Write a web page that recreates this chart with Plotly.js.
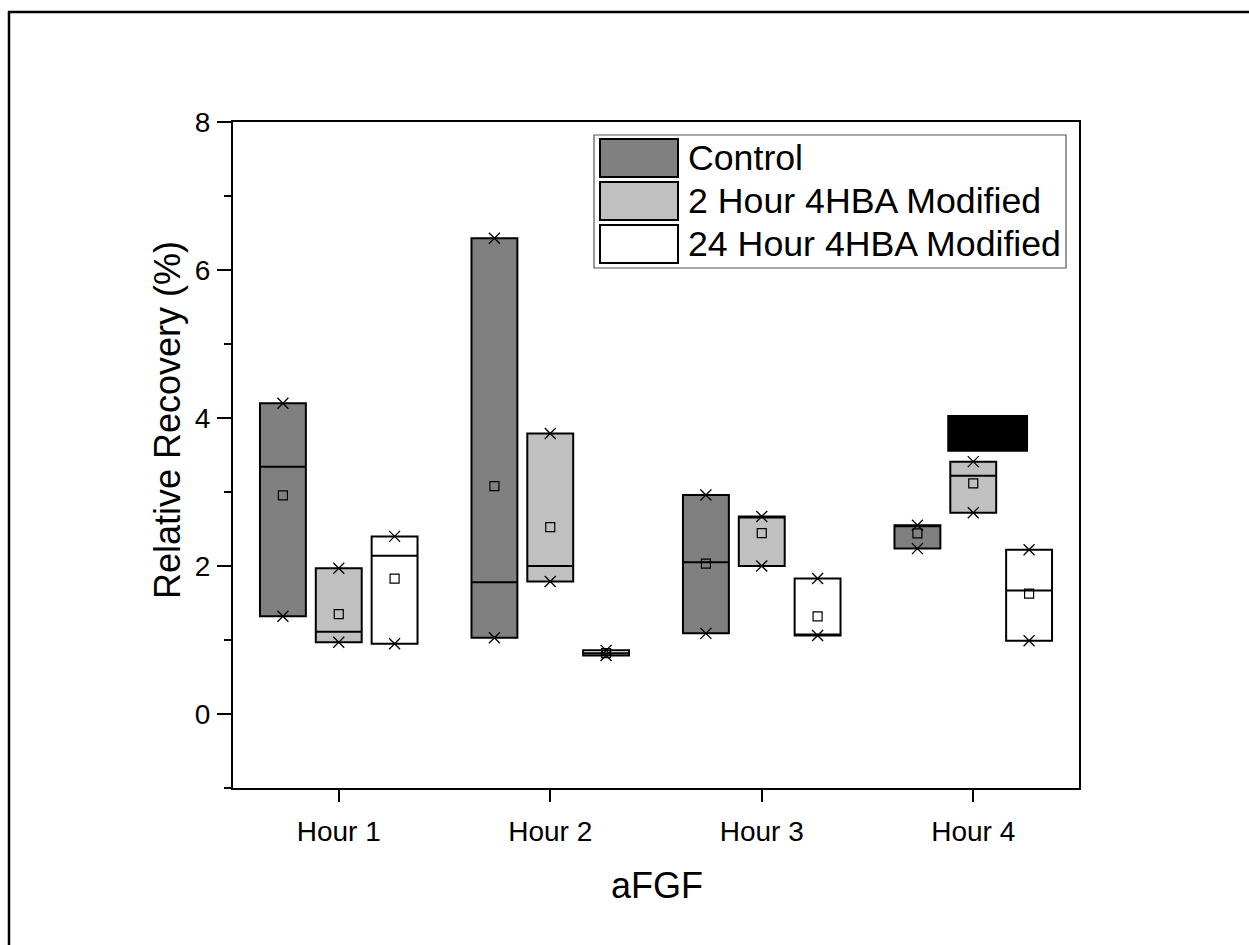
<!DOCTYPE html>
<html>
<head>
<meta charset="utf-8">
<script src="https://cdn.plot.ly/plotly-3.0.1.min.js"></script>
<style>
html,body{margin:0;padding:0;background:#fff;}
#chart{width:1249px;height:945px;}
</style>
</head>
<body>
<div id="chart"></div>
<script>
// ---- data ----
const categories = ["Hour 1", "Hour 2", "Hour 3", "Hour 4"];
const seriesNames = ["Control", "2 Hour 4HBA Modified", "24 Hour 4HBA Modified"];
// three measurements per group: [min, middle, max]
const controlValues = [[1.32, 3.34, 4.20], [1.03, 1.78, 6.43], [1.09, 2.05, 2.96], [2.235, 2.54, 2.55]];
const twoHourValues = [[0.97, 1.11, 1.97], [1.79, 2.00, 3.79], [2.00, 2.66, 2.67], [2.72, 3.22, 3.41]];
const day1Values    = [[0.95, 2.14, 2.40], [0.79, 0.82, 0.86], [1.06, 1.07, 1.83], [0.99, 1.67, 2.22]];
const yTickVals = [0, 2, 4, 6, 8];
const yMinorTickVals = [-1, 1, 3, 5, 7];
// black block drawn over Hour 4 in the reference (x in category units, y in %)
const blockX = [3.877, 4.259];
const blockY = [3.545, 4.04];

// ---- styling ----
const fills = ["#808080", "#C0C0C0", "#FFFFFF"];
const offsets = [-0.264, 0, 0.264];
const boxWidth = 0.217;
const FONT = "Arial, 'Liberation Sans', Helvetica, sans-serif";

const allSeries = [controlValues, twoHourValues, day1Values];
const traces = [];

allSeries.forEach((series, s) => {
  const xs = [], ys = [];
  const mx = [], my = [], ex = [], ey = [];
  series.forEach((vals, i) => {
    const xpos = (i + 1) + offsets[s];
    vals.forEach(v => { xs.push(xpos); ys.push(v); });
    const sorted = vals.slice().sort((a, b) => a - b);
    mx.push(xpos); my.push(vals.reduce((a, b) => a + b, 0) / vals.length);
    ex.push(xpos, xpos); ey.push(sorted[0], sorted[sorted.length - 1]);
  });
  traces.push({
    type: "box", name: seriesNames[s], x: xs, y: ys,
    quartilemethod: "exclusive", boxpoints: false,
    width: boxWidth, fillcolor: fills[s],
    line: {color: "#000", width: 2}, whiskerwidth: 0,
    showlegend: false, hoverinfo: "skip"
  });
  traces.push({
    type: "scatter", mode: "markers", x: ex, y: ey, showlegend: false, hoverinfo: "skip",
    marker: {symbol: "x-thin-open", size: 11, color: "#000", line: {color: "#000", width: 1.3}}
  });
  traces.push({
    type: "scatter", mode: "markers", x: mx, y: my, showlegend: false, hoverinfo: "skip",
    marker: {symbol: "square-open", size: 9, color: "#000", line: {color: "#000", width: 1.2}}
  });
});

// plot-area pixel geometry helpers
const L = 233, R = 1079, T = 122, B = 788;
const px = x => (x - L) / (R - L);
const py = y => (B - y) / (B - T);

const shapes = [
  // outer frame: left and top edges
  {type: "line", xref: "paper", yref: "paper", x0: px(9), x1: px(9), y0: py(11), y1: py(945),
   line: {color: "#000", width: 2.5}},
  {type: "line", xref: "paper", yref: "paper", x0: px(8), x1: px(1249), y0: py(12), y1: py(12),
   line: {color: "#000", width: 2.5}},
  // black block
  {type: "rect", xref: "x", yref: "y", x0: blockX[0], x1: blockX[1], y0: blockY[0], y1: blockY[1],
   line: {width: 0}, fillcolor: "#000"},
  // legend box
  {type: "rect", xref: "paper", yref: "paper", x0: px(594), x1: px(1066), y0: py(268), y1: py(135),
   line: {color: "#555", width: 1.2}, fillcolor: "#fff"}
];
const annotations = [];
const rowTop = [139, 182, 225];
seriesNames.forEach((n, s) => {
  shapes.push({type: "rect", xref: "paper", yref: "paper", x0: px(600), x1: px(678),
    y0: py(rowTop[s] + 38), y1: py(rowTop[s]), line: {color: "#000", width: 2}, fillcolor: fills[s]});
  annotations.push({xref: "paper", yref: "paper", x: px(686), y: py(rowTop[s] + 19),
    xanchor: "left", yanchor: "middle", showarrow: false, text: n,
    font: {family: FONT, size: 35.7, color: "#000"}});
});
annotations.push({xref: "paper", yref: "paper", x: px(167), y: py(420), textangle: -90,
  xanchor: "center", yanchor: "middle", showarrow: false, text: "Relative Recovery (%)",
  font: {family: FONT, size: 36, color: "#000"}});
annotations.push({xref: "paper", yref: "paper", x: px(657), y: py(886),
  xanchor: "center", yanchor: "middle", showarrow: false, text: "aFGF",
  font: {family: FONT, size: 36, color: "#000"}});

const layout = {
  width: 1249, height: 945,
  margin: {l: L, r: 1249 - R, t: T, b: 945 - B, pad: 0},
  paper_bgcolor: "#fff", plot_bgcolor: "#fff",
  showlegend: false,
  font: {family: FONT, color: "#000"},
  xaxis: {
    range: [0.5, 4.5], tickvals: [1, 2, 3, 4], ticktext: categories,
    showgrid: false, zeroline: false, showline: true, linecolor: "#000", linewidth: 2, mirror: true,
    ticks: "outside", ticklen: 12, tickwidth: 2, tickcolor: "#000", ticklabelstandoff: 5,
    tickfont: {family: FONT, size: 28, color: "#000"}
  },
  yaxis: {
    range: [-1, 8], tickvals: yTickVals,
    showgrid: false, zeroline: false, showline: true, linecolor: "#000", linewidth: 2, mirror: true,
    ticks: "outside", ticklen: 14, tickwidth: 2, tickcolor: "#000", ticklabelstandoff: 1,
    minor: {tickvals: yMinorTickVals, ticks: "outside", ticklen: 7, tickwidth: 2, tickcolor: "#000", showgrid: false},
    tickfont: {family: FONT, size: 28, color: "#000"}
  },
  shapes: shapes,
  annotations: annotations
};

Plotly.newPlot("chart", traces, layout, {displayModeBar: false, staticPlot: true});
</script>
</body>
</html>
